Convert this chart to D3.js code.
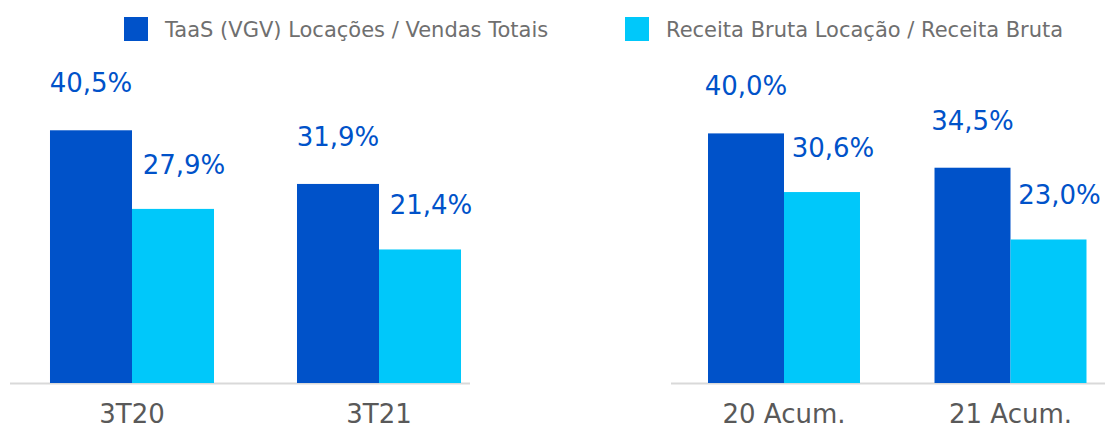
<!DOCTYPE html>
<html lang="pt">
<head>
<meta charset="utf-8">
<title>TaaS</title>
<script src="https://d3js.org/d3.v7.min.js"></script>
<style>
  body { margin: 0; background: #fff; }
  text { font-family: "DejaVu Sans", sans-serif; }
</style>
</head>
<body>
<script>
// data
var seriesNames = ["TaaS (VGV) Locações / Vendas Totais", "Receita Bruta Locação / Receita Bruta"];
var leftCats = ["3T20", "3T21"];
var leftTaas = [40.5, 31.9];
var leftReceita = [27.9, 21.4];
var rightCats = ["20 Acum.", "21 Acum."];
var rightTaas = [40.0, 34.5];
var rightReceita = [30.6, 23.0];

var colors = ["#0052C9", "#00C8FA"];

var w = 1110, h = 432;
var svg = d3.select("body").append("svg")
  .attr("width", w)
  .attr("height", h);

var y = d3.scaleLinear().domain([0, 45]).range([383, 102.2]);
var fmt = function(v) { return d3.format(".1f")(v).replace(".", ",") + "%"; };

function panel(cats, a, b, range, padIn, lineX) {
  var x0 = d3.scaleBand().domain(cats).range(range)
    .paddingInner(padIn).paddingOuter(0.17);
  var x1 = d3.scaleBand().domain([0, 1]).range([0, x0.bandwidth()]);

  var rows = cats.map(function(c, i) { return { cat: c, vals: [a[i], b[i]] }; });

  svg.append("line")
    .attr("x1", lineX[0]).attr("x2", lineX[1])
    .attr("y1", y(0) + 0.5).attr("y2", y(0) + 0.5)
    .attr("stroke", "#d9d9d9").attr("stroke-width", 2);

  var g = svg.selectAll(null).data(rows).enter().append("g")
    .attr("transform", function(d) { return "translate(" + x0(d.cat) + ",0)"; });

  g.selectAll("rect")
    .data(function(d) { return d.vals; })
    .enter().append("rect")
    .attr("x", function(d, i) { return x1(i); })
    .attr("width", x1.bandwidth())
    .attr("y", function(d) { return y(d); })
    .attr("height", function(d) { return y(0) - y(d); })
    .attr("fill", function(d, i) { return colors[i]; });

  // value labels, the light ones sit a bit to the right
  g.selectAll("text.val")
    .data(function(d) { return d.vals; })
    .enter().append("text")
    .attr("class", "val")
    .attr("x", function(d, i) { return x1(i) + x1.bandwidth() / 2 + (i ? 11 : 0); })
    .attr("y", function(d, i) { return y(d) - (i ? 35 : 38); })
    .attr("text-anchor", "middle")
    .attr("font-size", 26)
    .attr("fill", "#0052C9")
    .text(fmt);

  svg.selectAll(null).data(cats).enter().append("text")
    .attr("x", function(d) { return x0(d) + x0.bandwidth() / 2; })
    .attr("y", 423)
    .attr("text-anchor", "middle")
    .attr("font-size", 26)
    .attr("fill", "#595959")
    .text(function(d) { return d; });
}

panel(leftCats, leftTaas, leftReceita, [8, 503], 0.336, [10, 470]);
panel(rightCats, rightTaas, rightReceita, [669.5, 1125], 0.329, [671, 1105]);

// legend
var legX = [124, 625];
var leg = svg.selectAll("g.leg").data(seriesNames).enter().append("g")
  .attr("class", "leg")
  .attr("transform", function(d, i) { return "translate(" + legX[i] + ",17)"; });
leg.append("rect").attr("width", 24).attr("height", 24)
  .attr("fill", function(d, i) { return colors[i]; });
leg.append("text").attr("x", 41).attr("y", 20)
  .attr("font-size", 21).attr("fill", "#6f6f6f")
  .text(function(d) { return d; });
</script>
</body>
</html>
